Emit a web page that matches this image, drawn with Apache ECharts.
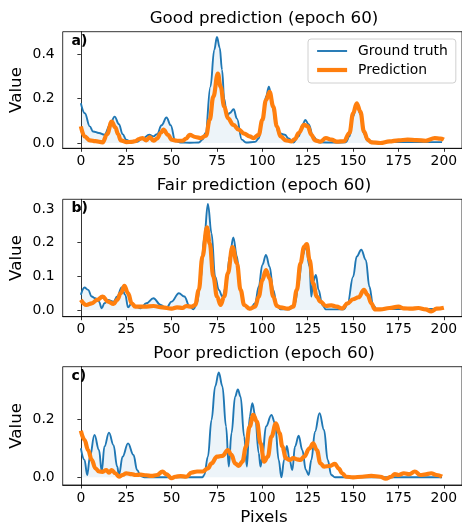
<!DOCTYPE html>
<html><head><meta charset="utf-8">
<script src="https://cdn.jsdelivr.net/npm/echarts@6/dist/echarts.min.js"></script>
<style>html,body{margin:0;padding:0;background:#fff}#c{width:462px;height:527px}</style>
</head><body><div id="c"></div>
<script>
const titles = ['Good prediction (epoch 60)', 'Fair prediction (epoch 60)', 'Poor prediction (epoch 60)'];
const panelLabels = ['a)', 'b)', 'c)'];
const seriesNames = ['Ground truth', 'Prediction'];
const xTicks = [0, 25, 50, 75, 100, 125, 150, 175, 200];
const yTicksA = [0, 0.2, 0.4];
const yTicksB = [0, 0.1, 0.2, 0.3];
const yTicksC = [0, 0.2];

const gtA = [[0,0.179],[2.2,0.134],[4.9,0.075],[6.7,0.052],[10,0.045],[13,0.037],[16,0.08],[18.6,0.119],[21,0.085],[23,0.04],[25,0.015],[28,0.003],[31,0.005],[34,0.02],[37.7,0.037],[40,0.03],[42,0.04],[44.5,0.08],[47.2,0.115],[49.5,0.08],[52,0.01],[55,0.002],[60,0.001],[65,0.002],[67,0.015],[68.7,0.045],[71.4,0.254],[73.5,0.42],[75,0.478],[76.5,0.43],[77.8,0.33],[79,0.2],[80.5,0.12],[82,0.135],[84.2,0.152],[86,0.11],[88.7,0.015],[91,0.002],[96,0.005],[98,0.02],[100,0.1],[102,0.21],[103.6,0.254],[105,0.21],[106,0.15],[107.5,0.08],[109,0.045],[112.4,0.037],[114.5,0.02],[117,0.002],[120,0.03],[122,0.08],[123.7,0.104],[125.5,0.085],[128,0.03],[131,0.003],[140,0.002],[146,0.003],[148,0.03],[150,0.12],[152,0.175],[154,0.13],[156,0.04],[158,0.01],[162,0.004],[199,0.004]];
const prA = [[0,0.075],[2,0.03],[5,0.012],[8,0.008],[12,0.003],[14.5,0.04],[17,0.097],[19,0.07],[20.5,0.04],[22,0.012],[25,0.004],[28,0.005],[30,0.008],[32,0.018],[34,0.022],[36,0.012],[38,0.027],[40,0.01],[42,0.02],[44,0.045],[45.5,0.06],[48,0.037],[50,0.015],[53,0.01],[56,0.01],[58,0.02],[60,0.037],[63,0.027],[66,0.022],[69,0.033],[71,0.104],[73,0.209],[75.5,0.313],[77,0.254],[79,0.164],[81,0.112],[84,0.082],[87,0.06],[90,0.042],[93,0.03],[95,0.022],[98,0.037],[100,0.104],[102,0.194],[104,0.231],[106,0.164],[108,0.075],[110,0.03],[113,0.012],[116,0.007],[118,0.018],[120,0.045],[123,0.082],[125,0.075],[127,0.037],[129,0.012],[132,0.006],[135,0.022],[138,0.015],[141,0.006],[145,0.008],[148,0.045],[150,0.134],[152,0.179],[154,0.142],[156,0.052],[158,0.015],[160,0.003],[165,0],[170,0.007],[175,0.012],[180,0.015],[185,0.013],[190,0.01],[195,0.022],[198,0.02],[200,0.015]];

const gtB = [[0,0.045],[2,0.067],[4,0.06],[6,0.04],[8,0.035],[10,0.025],[11.5,0.005],[13,0.02],[15,0.03],[18,0.025],[20,0.04],[22.5,0.067],[24.5,0.045],[26,0.008],[28,0.02],[30,0.012],[33,0.005],[36,0.02],[40,0.035],[44,0.015],[47,0.005],[50,0.025],[54,0.05],[57,0.04],[60,0.01],[62,0.002],[64,0.02],[66,0.089],[68,0.218],[70,0.315],[72,0.228],[74,0.099],[76,0.06],[78,0.04],[80,0.069],[82,0.159],[84,0.216],[86,0.159],[88,0.06],[90,0.015],[93,0.002],[96,0.02],[98,0.069],[100,0.134],[102,0.164],[104,0.129],[106,0.06],[108,0.015],[110,0.002],[115,0.002],[118,0.02],[120,0.079],[122,0.159],[124,0.188],[126,0.129],[127,0.04],[128,0.084],[129.5,0.104],[131,0.06],[133,0.015],[135,0.002],[145,0.002],[147,0.02],[150,0.099],[152,0.159],[154.5,0.179],[157,0.149],[159,0.069],[161,0.015],[163,0.003],[199,0.003]];
const prB = [[0,0.03],[3,0.015],[6,0.02],[9,0.03],[12,0.04],[15,0.025],[18,0.018],[20,0.03],[22,0.05],[24,0.072],[26,0.05],[28,0.02],[30,0.01],[35,0.01],[40,0.012],[45,0.008],[50,0.004],[53,0.008],[56,0.006],[58,0.012],[61,0.01],[63,0.015],[65,0.06],[67,0.159],[69.5,0.246],[71,0.198],[73,0.099],[75,0.04],[77,0.015],[79,0.04],[81,0.109],[83.5,0.187],[86,0.139],[88,0.06],[90,0.015],[93,0.004],[96,0.01],[98,0.04],[100,0.089],[102,0.119],[104,0.094],[106,0.04],[108,0.012],[110,0.008],[114,0.004],[117,0.01],[119,0.06],[121,0.139],[123,0.188],[124.5,0.196],[126,0.149],[128,0.079],[130,0.04],[132,0.025],[135,0.012],[138,0.014],[141,0.01],[144,0.005],[147,0.02],[150,0.032],[153,0.038],[156,0.06],[158,0.045],[160,0.02],[162,0.002],[165,0.002],[170,0.006],[175,0.01],[178,0.005],[182,0.004],[186,0.006],[190,0.002],[193,-0.004],[196,0.004],[200,0.007]];

const gtC = [[0,0.1],[2,0.06],[3.5,0.008],[5,0.071],[7.5,0.146],[10,0.094],[11.5,0.02],[13,0.106],[15.5,0.154],[18,0.111],[20,0.037],[21,0.008],[23,0.071],[26,0.117],[29,0.077],[31,0.025],[33,0.004],[35,0],[67,0],[68,0.008],[70,0.071],[72,0.198],[74,0.313],[76,0.361],[78,0.313],[80,0.175],[81.5,0.037],[83,0.152],[85,0.278],[86.5,0.303],[88,0.278],[90,0.14],[91.5,0.037],[93,0.209],[94.5,0.255],[96,0.215],[98,0.083],[99,0.037],[100,0.071],[102,0.175],[105,0.215],[107,0.186],[109,0.06],[110.5,0],[112,0.06],[113.5,0.108],[115,0.06],[116.5,0.025],[118,0.106],[120,0.143],[122,0.094],[124,0.025],[125.5,0.008],[127,0.06],[129,0.157],[131.5,0.221],[134,0.163],[136,0.06],[138,0.008],[140,0],[199,0]];
const prC = [[0,0.16],[2,0.129],[4,0.094],[6,0.06],[8,0.031],[10,0.02],[12,0.019],[14,0.025],[15.5,0.016],[17,0.025],[19,0.014],[21,0.002],[23,0.008],[25,0.014],[28,0.011],[30,0.008],[33,0.009],[36,0.007],[39,0.005],[42,0.008],[45,0.02],[47,0.011],[50,-0.003],[52,0.002],[55,0.004],[58,0.002],[61,0.016],[64,0.02],[67,0.02],[70,0.031],[72,0.048],[75,0.071],[78,0.074],[81,0.094],[83,0.077],[85,0.048],[87,0.039],[89,0.054],[91,0.106],[93,0.175],[95,0.215],[97,0.192],[99,0.117],[101,0.054],[103,0.071],[105,0.14],[107.5,0.186],[109.5,0.152],[111,0.106],[113,0.066],[115,0.06],[117,0.066],[119,0.062],[121,0.06],[123,0.071],[126,0.1],[128,0.117],[130,0.094],[132,0.048],[134,0.037],[137,0.039],[140,0.046],[142,0.031],[144,0.014],[146,0.002],[150,0],[155,0.002],[160,0.005],[165,0.002],[168,-0.005],[171,0.002],[173,0.011],[175,0.008],[178,0.014],[181,0.011],[184,0.02],[187,0.008],[190,0.01],[193,0.014],[196,0.008],[199,0.002]];

const FONT = 'DejaVu Sans';
const panels = [
  {top: 31.7, height: 116.6, ymin: -0.024, ymax: 0.502, yTicks: yTicksA, gt: gtA, pr: prA},
  {top: 199.3, height: 117.4, ymin: -0.0198, ymax: 0.329, yTicks: yTicksB, gt: gtB, pr: prB},
  {top: 366.7, height: 118.3, ymin: -0.0265, ymax: 0.381, yTicks: yTicksC, gt: gtC, pr: prC}
];
const LEFT = 62.7, RIGHT = -3.3;

const chart = echarts.init(document.getElementById('c'), null, {renderer: 'canvas'});
const grid = [], xAxis = [], yAxis = [], series = [], graphic = [];
panels.forEach((p, i) => {
  grid.push({left: LEFT, right: RIGHT, top: p.top, height: p.height, show: true,
    borderColor: '#000', borderWidth: 0.8, backgroundColor: 'transparent'});
  xAxis.push({type: 'value', gridIndex: i, min: -10, max: 210,
    axisLine: {show: true, onZero: false, lineStyle: {color: '#000', width: 0.8}},
    axisTick: {show: true, customValues: xTicks, length: 3.5, lineStyle: {color: '#000', width: 0.8}},
    axisLabel: {show: true, customValues: xTicks, color: '#000', fontSize: 13.9, fontFamily: FONT, margin: 6},
    splitLine: {show: false}});
  yAxis.push({type: 'value', gridIndex: i, min: p.ymin, max: p.ymax,
    axisLine: {show: true, lineStyle: {color: '#000', width: 0.8}},
    axisTick: {show: true, customValues: p.yTicks, length: 3.5, lineStyle: {color: '#000', width: 0.8}},
    axisLabel: {show: true, customValues: p.yTicks, color: '#000', fontSize: 13.9, fontFamily: FONT, margin: 8,
      formatter: v => (Math.abs(v) < 1e-9 ? 0 : v).toFixed(1)},
    splitLine: {show: false}});
  series.push({type: 'line', name: seriesNames[0], xAxisIndex: i, yAxisIndex: i, data: p.gt,
    symbol: 'none', smooth: 0.4, smoothMonotone: 'x', z: 2,
    lineStyle: {color: '#1f77b4', width: 1.9}, itemStyle: {color: '#1f77b4'},
    areaStyle: {color: 'rgba(31,119,180,0.11)', origin: 'auto'}});
  series.push({type: 'line', name: seriesNames[1], xAxisIndex: i, yAxisIndex: i, data: p.pr,
    symbol: 'none', smooth: 0.4, smoothMonotone: 'x', z: 3,
    lineStyle: {color: '#ff7f0e', width: 4.2}, itemStyle: {color: '#ff7f0e'}});
  graphic.push({type: 'text', x: 264, y: p.top - 13.5, style: {text: titles[i], font: '16.7px "' + FONT + '"',
    fill: '#000', align: 'center', verticalAlign: 'middle'}});
  graphic.push({type: 'text', x: 71.5, y: p.top + 9.5, style: {text: panelLabels[i], font: 'bold 14px "' + FONT + '"',
    fill: '#000', align: 'left', verticalAlign: 'middle'}});
  graphic.push({type: 'text', x: 17, y: p.top + p.height / 2, rotation: Math.PI / 2,
    style: {text: 'Value', font: '16.7px "' + FONT + '"', fill: '#000', align: 'center', verticalAlign: 'middle'}});
});
graphic.push({type: 'text', x: 264, y: 518, style: {text: 'Pixels', font: '16.7px "' + FONT + '"',
  fill: '#000', align: 'center', verticalAlign: 'middle'}});

chart.setOption({
  animation: false,
  backgroundColor: '#fff',
  grid, xAxis, yAxis, series, graphic,
  legend: {
    data: [
      {name: seriesNames[0], lineStyle: {width: 1.9, color: '#1f77b4'}},
      {name: seriesNames[1], lineStyle: {width: 4.2, color: '#ff7f0e'}}
    ],
    orient: 'vertical', left: 308, top: 39, itemWidth: 30, itemHeight: 14, itemGap: 5,
    padding: [5, 8, 6, 7], borderColor: '#d0d0d0', borderWidth: 1, borderRadius: 3,
    backgroundColor: 'rgba(255,255,255,0.8)', z: 10,
    itemStyle: {opacity: 0},
    textStyle: {fontSize: 13.9, fontFamily: FONT, color: '#000', padding: [0, 0, 0, 6]}}
});
</script></body></html>
